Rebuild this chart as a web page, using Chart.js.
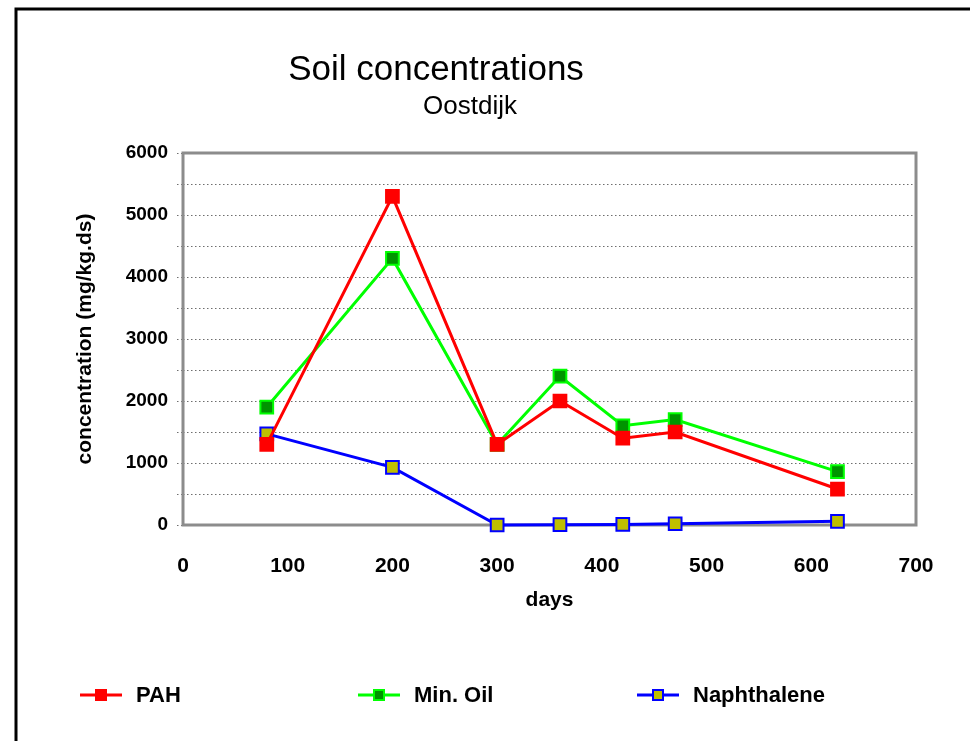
<!DOCTYPE html>
<html>
<head>
<meta charset="utf-8">
<script src="https://cdn.jsdelivr.net/npm/chart.js@4/dist/chart.umd.min.js"></script>
<style>
  html, body { margin: 0; padding: 0; background: #fff; }
  #wrap { width: 970px; height: 741px; }
</style>
</head>
<body>
<div id="wrap"><canvas id="soilChart" width="970" height="741"></canvas></div>
<script>
// Data
const days = [80, 200, 300, 360, 420, 470, 625];
const pah = [1300, 5300, 1300, 2000, 1400, 1500, 580];
const minOil = [1900, 4300, 1300, 2400, 1600, 1700, 860];
const naphthalene = [1470, 930, 0, 5, 10, 20, 60];
const seriesNames = ['PAH', 'Min. Oil', 'Naphthalene'];
const titleText = 'Soil concentrations';
const subtitleText = 'Oostdijk';

const FONT = "'Liberation Sans', Arial, sans-serif";

function toPoints(values) {
  return values.map((v, i) => ({ x: days[i], y: v }));
}

// Outer frame, titles, plot border and legend
const decorPlugin = {
  id: 'decor',
  beforeDraw(chart) {
    const ctx = chart.ctx;
    ctx.save();
    ctx.fillStyle = '#fff';
    ctx.fillRect(0, 0, chart.width, chart.height);
    ctx.strokeStyle = '#000';
    ctx.lineWidth = 3;
    ctx.strokeRect(16, 9, chart.width + 10, chart.height + 10);

    ctx.fillStyle = '#000';
    ctx.textAlign = 'center';
    ctx.textBaseline = 'alphabetic';
    ctx.font = `35px ${FONT}`;
    ctx.fillText(titleText, 436, 80);
    ctx.font = `26px ${FONT}`;
    ctx.fillText(subtitleText, 470, 114);
    ctx.restore();
  },
  beforeDatasetsDraw(chart) {
    const { ctx, chartArea: a } = chart;
    ctx.save();
    ctx.strokeStyle = '#8c8c8c';
    ctx.lineWidth = 3;
    ctx.strokeRect(a.left, a.top, a.right - a.left, a.bottom - a.top);
    ctx.restore();
  },
  afterDraw(chart) {
    const ctx = chart.ctx;
    const starts = [80, 358, 637];
    const y = 695;
    ctx.save();
    chart.data.datasets.forEach((ds, i) => {
      const x0 = starts[i];
      ctx.strokeStyle = ds.borderColor;
      ctx.lineWidth = 3;
      ctx.beginPath();
      ctx.moveTo(x0, y);
      ctx.lineTo(x0 + 42, y);
      ctx.stroke();
      ctx.fillStyle = ds.pointBackgroundColor;
      ctx.strokeStyle = ds.pointBorderColor;
      ctx.lineWidth = 2;
      ctx.fillRect(x0 + 16, y - 5, 10, 10);
      ctx.strokeRect(x0 + 16, y - 5, 10, 10);
      ctx.fillStyle = '#000';
      ctx.font = `bold 22px ${FONT}`;
      ctx.textAlign = 'left';
      ctx.textBaseline = 'middle';
      ctx.fillText(ds.label, x0 + 56, y + 1);
    });
    ctx.restore();
  }
};

const ctx = document.getElementById('soilChart').getContext('2d');

new Chart(ctx, {
  type: 'line',
  data: {
    datasets: [
      {
        label: seriesNames[0],
        data: toPoints(pah),
        borderColor: '#ff0000',
        pointBackgroundColor: '#ff0000',
        pointBorderColor: '#ff0000'
      },
      {
        label: seriesNames[1],
        data: toPoints(minOil),
        borderColor: '#00ff00',
        pointBackgroundColor: '#009400',
        pointBorderColor: '#00ff00'
      },
      {
        label: seriesNames[2],
        data: toPoints(naphthalene),
        borderColor: '#0000ff',
        pointBackgroundColor: '#bfbf00',
        pointBorderColor: '#0000ff'
      }
    ]
  },
  options: {
    responsive: false,
    animation: false,
    layout: { padding: { left: 60, right: 54, top: 153, bottom: 116 } },
    elements: {
      line: { borderWidth: 3, tension: 0 },
      point: { pointStyle: 'rect', radius: 9, borderWidth: 2, hoverRadius: 9 }
    },
    datasets: { line: { clip: false } },
    plugins: {
      legend: { display: false },
      title: { display: false },
      tooltip: { enabled: false }
    },
    scales: {
      x: {
        type: 'linear',
        min: 0,
        max: 700,
        afterFit: s => { s.height = 100; },
        border: { display: false },
        grid: { display: false, drawTicks: false },
        ticks: {
          stepSize: 100,
          padding: 29,
          color: '#000',
          maxRotation: 0,
          font: { family: FONT, size: 21, weight: 'bold' }
        },
        title: {
          display: true,
          text: 'days',
          color: '#000',
          padding: { top: 4, bottom: 12 },
          font: { family: FONT, size: 21, weight: 'bold' }
        }
      },
      y: {
        min: 0,
        max: 6000,
        afterFit: s => { s.width = 123; },
        border: { display: false, dash: [1.5, 2.5] },
        grid: {
          color: '#6e6e6e',
          lineWidth: 1,
          tickLength: 6,
          tickBorderDash: [1.5, 2.5],
          tickColor: '#6e6e6e'
        },
        ticks: {
          stepSize: 500,
          padding: 9,
          color: '#000',
          font: { family: FONT, size: 19, weight: 'bold' },
          callback: v => (v % 1000 === 0 ? v : '')
        },
        title: {
          display: true,
          text: 'concentration (mg/kg.ds)',
          color: '#000',
          padding: { top: 13, bottom: 4 },
          font: { family: FONT, size: 21, weight: 'bold' }
        }
      }
    }
  },
  plugins: [decorPlugin]
});
</script>
</body>
</html>
